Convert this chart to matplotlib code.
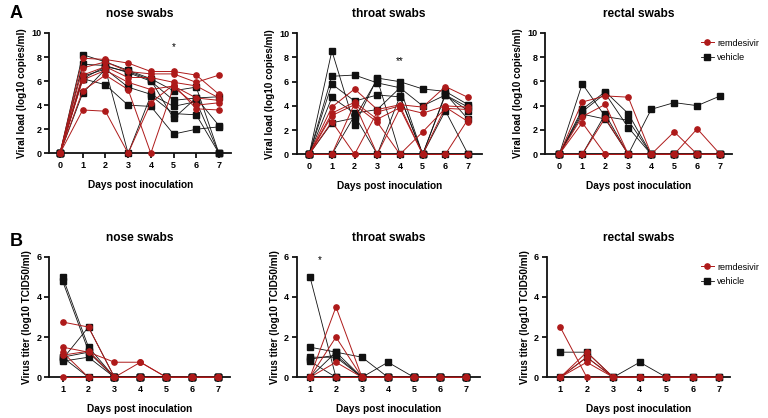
import matplotlib
matplotlib.use("Agg")
import matplotlib.pyplot as plt

plt.rcParams['font.family'] = ['Liberation Sans', 'DejaVu Sans']
plt.rcParams['font.weight'] = 'bold'

RED = '#AE1A1A'
BLK = '#111111'

days_A = [0, 1, 2, 3, 4, 5, 6, 7]
days_B = [1, 2, 3, 4, 5, 6, 7]

# ---- Panel A: viral load (log10 copies/ml) ----
noseA_vehicle = [
    [0, 8.2, 7.6, 6.9, 6.2, 5.2, 5.5, 0],
    [0, 7.4, 7.3, 6.7, 6.0, 4.4, 4.6, 2.3],
    [0, 6.4, 7.0, 5.5, 4.9, 3.9, 4.3, 0],
    [0, 6.2, 5.7, 4.0, 3.9, 1.6, 2.0, 2.2],
    [0, 5.0, 7.0, 0, 4.8, 3.3, 3.2, 0],
    [0, 6.2, 7.2, 6.8, 6.1, 2.9, 4.6, 4.7],
]
noseA_remdesivir = [
    [0, 7.9, 7.8, 7.5, 6.8, 6.8, 6.5, 4.9],
    [0, 7.1, 7.6, 6.8, 6.6, 6.6, 5.9, 6.5],
    [0, 6.5, 7.2, 6.3, 6.3, 5.9, 5.6, 4.6],
    [0, 6.1, 6.9, 5.9, 5.3, 5.6, 4.6, 4.4],
    [0, 5.2, 6.5, 5.3, 0, 5.5, 4.0, 4.2],
    [0, 3.6, 3.5, 0, 4.2, 5.7, 3.7, 3.6],
]
throatA_vehicle = [
    [0, 8.55, 2.4, 6.3, 6.0, 5.4, 5.2, 4.1],
    [0, 6.45, 6.55, 5.9, 5.5, 4.0, 4.9, 3.6],
    [0, 5.8, 4.4, 4.9, 4.75, 0, 5.0, 2.9],
    [0, 4.7, 3.4, 3.7, 5.5, 0, 3.6, 0],
    [0, 2.6, 3.0, 6.2, 0, 0, 4.9, 3.9],
    [0, 0, 3.2, 0, 4.8, 0, 0, 0],
]
throatA_remdesivir = [
    [0, 3.9, 5.4, 3.7, 4.1, 3.9, 5.6, 4.7],
    [0, 3.4, 4.3, 2.9, 3.85, 3.4, 4.0, 3.9],
    [0, 3.2, 4.1, 2.65, 0, 1.85, 3.8, 3.7],
    [0, 2.7, 0, 3.5, 4.0, 0, 0, 2.9],
    [0, 0, 4.2, 0, 3.8, 0, 3.9, 2.7],
    [0, 0, 0, 0, 0, 0, 0, 0],
]
rectalA_vehicle = [
    [0, 5.8, 3.1, 2.8, 0, 0, 0, 0],
    [0, 3.7, 5.15, 3.35, 0, 0, 0, 0],
    [0, 3.5, 5.0, 2.2, 0, 0, 0, 0],
    [0, 3.3, 2.9, 0, 3.7, 4.25, 4.0, 4.8],
    [0, 0, 3.3, 0, 0, 0, 0, 0],
]
rectalA_remdesivir = [
    [0, 4.3, 4.8, 4.7, 0, 0, 0, 0],
    [0, 3.1, 4.1, 0, 0, 1.85, 0, 0],
    [0, 2.6, 0, 0, 0, 0, 2.1, 0],
    [0, 0, 3.0, 0, 0, 0, 0, 0],
    [0, 0, 0, 0, 0, 0, 0, 0],
]

# ---- Panel B: virus titer (log10 TCID50/ml) ----
noseB_vehicle = [
    [5.0, 1.5, 0, 0, 0, 0, 0],
    [4.8, 1.3, 0, 0, 0, 0, 0],
    [1.0, 1.25, 0, 0, 0, 0, 0],
    [0.9, 2.5, 0, 0, 0, 0, 0],
    [0.8, 1.0, 0, 0, 0, 0, 0],
    [1.0, 0, 0, 0, 0, 0, 0],
]
noseB_remdesivir = [
    [2.75, 2.5, 0, 0.75, 0, 0, 0],
    [1.5, 1.25, 0.75, 0.75, 0, 0, 0],
    [1.25, 0, 0, 0, 0, 0, 0],
    [1.1, 1.3, 0, 0, 0, 0, 0],
    [0, 0, 0, 0, 0, 0, 0],
]
throatB_vehicle = [
    [5.0, 0, 0, 0, 0, 0, 0],
    [1.5, 1.25, 1.0, 0, 0, 0, 0],
    [1.0, 1.0, 0, 0.75, 0, 0, 0],
    [0.8, 0, 0, 0, 0, 0, 0],
    [0, 1.25, 0, 0, 0, 0, 0],
    [0.9, 1.1, 0, 0, 0, 0, 0],
]
throatB_remdesivir = [
    [0, 3.5, 0, 0, 0, 0, 0],
    [0, 2.0, 0, 0, 0, 0, 0],
    [0, 0.75, 0, 0, 0, 0, 0],
    [0, 0, 0, 0, 0, 0, 0],
]
rectalB_vehicle = [
    [1.25, 1.25, 0, 0, 0, 0, 0],
    [0, 1.0, 0, 0.75, 0, 0, 0],
]
rectalB_remdesivir = [
    [2.5, 0, 0, 0, 0, 0, 0],
    [0, 1.25, 0, 0, 0, 0, 0],
    [0, 0.75, 0, 0, 0, 0, 0],
    [0, 1.0, 0, 0, 0, 0, 0],
]

titles = ['nose swabs', 'throat swabs', 'rectal swabs']
ylabel_A = 'Viral load (log10 copies/ml)'
ylabel_B = 'Virus titer (log10 TCID50/ml)'
xlabel = 'Days post inoculation'

W, H = 768, 418
fig = plt.figure(figsize=(W / 100, H / 100), dpi=100)


def px_axes(x0, x1, ytop, ybot):
    return fig.add_axes([x0 / W, 1 - ybot / H, (x1 - x0) / W, (ybot - ytop) / H])


axes_A = [
    (px_axes(49.3, 231.0, 33.0, 153.3), (-0.47, 7.53)),
    (px_axes(296.7, 481.7, 33.3, 154.3), (-0.55, 7.6)),
    (px_axes(545.0, 731.7, 32.7, 154.3), (-0.62, 7.5)),
]
axes_B = [
    (px_axes(49.3, 230.0, 256.7, 377.3), (0.49, 7.45)),
    (px_axes(296.7, 480.0, 256.7, 377.3), (0.49, 7.54)),
    (px_axes(546.7, 730.0, 256.7, 377.3), (0.49, 7.4)),
]
legend_tops = [35, 259]

data_A = [(noseA_vehicle, noseA_remdesivir),
          (throatA_vehicle, throatA_remdesivir),
          (rectalA_vehicle, rectalA_remdesivir)]
data_B = [(noseB_vehicle, noseB_remdesivir),
          (throatB_vehicle, throatB_remdesivir),
          (rectalB_vehicle, rectalB_remdesivir)]


def style(ax, xlim, ylim, xticks, yticks, ylabel, title):
    ax.set_xlim(*xlim)
    ax.set_ylim(*ylim)
    ax.set_xticks(xticks)
    ax.set_yticks(yticks)
    for s in ['top', 'right']:
        ax.spines[s].set_visible(False)
    for s in ['left', 'bottom']:
        ax.spines[s].set_linewidth(1.3)
        ax.spines[s].set_color('#111111')
    ax.tick_params(direction='out', length=3.5, width=1.2, labelsize=6.5, pad=2)
    ax.set_ylabel(ylabel, fontsize=7.2, fontweight='bold', labelpad=3)
    ax.set_xlabel(xlabel, fontsize=7.3, fontweight='bold', labelpad=7)
    ax.set_title(title, fontsize=8.6, fontweight='bold', pad=11.5)
    for lab in ax.get_xticklabels() + ax.get_yticklabels():
        lab.set_fontweight('bold')


def draw(ax, days, veh, rem, legend_top=None):
    for i, s in enumerate(veh):
        ax.plot(days, s, color=BLK, lw=0.6, marker='s', ms=4.2, mfc=BLK, mec=BLK,
                clip_on=False, zorder=3, label='vehicle' if i == 0 else None)
    for i, s in enumerate(rem):
        ax.plot(days, s, color=RED, lw=0.7, marker='o', ms=3.8, mfc=RED, mec=RED,
                clip_on=False, zorder=4, label='remdesivir' if i == 0 else None)
    if legend_top is not None:
        h, l = ax.get_legend_handles_labels()
        ax.legend([h[1], h[0]], [l[1], l[0]], loc='upper left',
                  bbox_to_anchor=(697 / W, 1 - legend_top / H),
                  bbox_transform=fig.transFigure, frameon=False,
                  handlelength=1.5, handletextpad=0.35, labelspacing=0.65,
                  borderaxespad=0.0,
                  prop={'weight': 'normal', 'size': 6.5})


for i, (ax, xl) in enumerate(axes_A):
    veh, rem = data_A[i]
    draw(ax, days_A, veh, rem, legend_top=legend_tops[0] if i == 2 else None)
    style(ax, xl, (0, 10), days_A, [0, 2, 4, 6, 8, 10], ylabel_A, titles[i])

for i, (ax, xl) in enumerate(axes_B):
    veh, rem = data_B[i]
    draw(ax, days_B, veh, rem, legend_top=legend_tops[1] if i == 2 else None)
    style(ax, xl, (0, 6), days_B, [0, 2, 4, 6], ylabel_B, titles[i])

# significance marks
axes_A[0][0].text(5, 8.8, '*', ha='center', va='center', fontsize=7, fontweight='normal')
axes_A[1][0].text(4, 7.7, '**', ha='center', va='center', fontsize=7, fontweight='normal')
axes_B[1][0].text(1.38, 5.85, '*', ha='center', va='center', fontsize=7, fontweight='normal')

fig.text(10 / W, 1 - 13 / H, 'A', fontsize=13, fontweight='bold', va='center', ha='left')
fig.text(10 / W, 1 - 242 / H, 'B', fontsize=13, fontweight='bold', va='center', ha='left')

fig.savefig('out.png', dpi=100)
